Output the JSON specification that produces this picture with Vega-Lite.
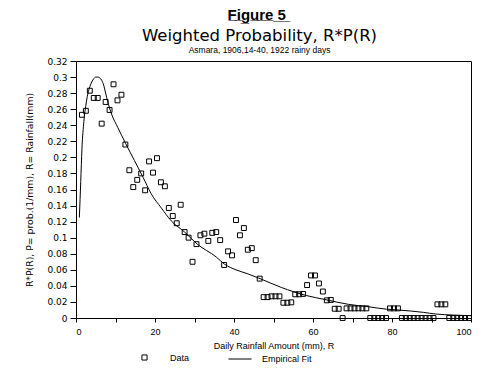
{
  "$schema": "https://vega.github.io/schema/vega-lite/v6.json",
  "padding": {"left": 25, "top": 7, "right": 5, "bottom": 2},
  "background": "white",
  "title": {"text": "F\u0332i\u0332g\u0332u\u0332r\u0332e\u0332 \u03325\u0332", "font": "Liberation Sans", "fontSize": 15, "fontWeight": "bold", "color": "black", "anchor": "middle", "dx": 7, "offset": 5},
  "config": {
    "view": {"stroke": "black", "strokeWidth": 1},
    "axis": {"domainColor": "black", "tickColor": "black", "labelColor": "black", "titleColor": "black", "grid": false, "titleFontWeight": "normal", "labelOverlap": false}
  },
  "datasets": {
    "pts": [
      {"R": 1.5, "v": 0.253, "series": "Data"}, {"R": 2.5, "v": 0.258, "series": "Data"}, {"R": 3.5, "v": 0.283, "series": "Data"},
      {"R": 4.5, "v": 0.274, "series": "Data"}, {"R": 5.5, "v": 0.274, "series": "Data"}, {"R": 6.5, "v": 0.242, "series": "Data"},
      {"R": 7.5, "v": 0.269, "series": "Data"}, {"R": 8.5, "v": 0.259, "series": "Data"}, {"R": 9.5, "v": 0.291, "series": "Data"},
      {"R": 10.5, "v": 0.271, "series": "Data"}, {"R": 11.5, "v": 0.278, "series": "Data"}, {"R": 12.5, "v": 0.216, "series": "Data"},
      {"R": 13.5, "v": 0.184, "series": "Data"}, {"R": 14.5, "v": 0.163, "series": "Data"}, {"R": 15.5, "v": 0.172, "series": "Data"},
      {"R": 16.5, "v": 0.180, "series": "Data"}, {"R": 17.5, "v": 0.159, "series": "Data"}, {"R": 18.5, "v": 0.195, "series": "Data"},
      {"R": 19.5, "v": 0.181, "series": "Data"}, {"R": 20.5, "v": 0.199, "series": "Data"}, {"R": 21.5, "v": 0.169, "series": "Data"},
      {"R": 22.5, "v": 0.164, "series": "Data"}, {"R": 23.5, "v": 0.137, "series": "Data"}, {"R": 24.5, "v": 0.127, "series": "Data"},
      {"R": 25.5, "v": 0.118, "series": "Data"}, {"R": 26.5, "v": 0.141, "series": "Data"}, {"R": 27.5, "v": 0.107, "series": "Data"},
      {"R": 28.5, "v": 0.100, "series": "Data"}, {"R": 29.5, "v": 0.070, "series": "Data"}, {"R": 30.5, "v": 0.092, "series": "Data"},
      {"R": 31.5, "v": 0.103, "series": "Data"}, {"R": 32.5, "v": 0.105, "series": "Data"}, {"R": 33.5, "v": 0.096, "series": "Data"},
      {"R": 34.5, "v": 0.106, "series": "Data"}, {"R": 35.5, "v": 0.107, "series": "Data"}, {"R": 36.5, "v": 0.097, "series": "Data"},
      {"R": 37.5, "v": 0.066, "series": "Data"}, {"R": 38.5, "v": 0.083, "series": "Data"}, {"R": 39.5, "v": 0.078, "series": "Data"},
      {"R": 40.5, "v": 0.122, "series": "Data"}, {"R": 41.5, "v": 0.103, "series": "Data"}, {"R": 42.5, "v": 0.112, "series": "Data"},
      {"R": 43.5, "v": 0.085, "series": "Data"}, {"R": 44.5, "v": 0.087, "series": "Data"}, {"R": 45.5, "v": 0.072, "series": "Data"},
      {"R": 46.5, "v": 0.049, "series": "Data"}, {"R": 47.5, "v": 0.026, "series": "Data"}, {"R": 48.5, "v": 0.026, "series": "Data"},
      {"R": 49.5, "v": 0.027, "series": "Data"}, {"R": 50.5, "v": 0.027, "series": "Data"}, {"R": 51.5, "v": 0.027, "series": "Data"},
      {"R": 52.5, "v": 0.019, "series": "Data"}, {"R": 53.5, "v": 0.019, "series": "Data"}, {"R": 54.5, "v": 0.0195, "series": "Data"},
      {"R": 55.5, "v": 0.0295, "series": "Data"}, {"R": 56.5, "v": 0.0295, "series": "Data"}, {"R": 57.5, "v": 0.030, "series": "Data"},
      {"R": 58.5, "v": 0.041, "series": "Data"}, {"R": 59.5, "v": 0.053, "series": "Data"}, {"R": 60.5, "v": 0.053, "series": "Data"},
      {"R": 61.5, "v": 0.043, "series": "Data"}, {"R": 62.5, "v": 0.033, "series": "Data"}, {"R": 63.5, "v": 0.022, "series": "Data"},
      {"R": 64.5, "v": 0.0225, "series": "Data"}, {"R": 65.5, "v": 0.0115, "series": "Data"}, {"R": 66.5, "v": 0.0115, "series": "Data"},
      {"R": 67.5, "v": 0, "series": "Data"}, {"R": 68.5, "v": 0.012, "series": "Data"}, {"R": 69.5, "v": 0.012, "series": "Data"},
      {"R": 70.5, "v": 0.012, "series": "Data"}, {"R": 71.5, "v": 0.012, "series": "Data"}, {"R": 72.5, "v": 0.012, "series": "Data"},
      {"R": 73.5, "v": 0.012, "series": "Data"}, {"R": 74.5, "v": 0, "series": "Data"}, {"R": 75.5, "v": 0, "series": "Data"},
      {"R": 76.5, "v": 0, "series": "Data"}, {"R": 77.5, "v": 0, "series": "Data"}, {"R": 78.5, "v": 0, "series": "Data"},
      {"R": 79.5, "v": 0.012, "series": "Data"}, {"R": 80.5, "v": 0.012, "series": "Data"}, {"R": 81.5, "v": 0.012, "series": "Data"},
      {"R": 82.5, "v": 0, "series": "Data"}, {"R": 83.5, "v": 0, "series": "Data"}, {"R": 84.5, "v": 0, "series": "Data"},
      {"R": 85.5, "v": 0, "series": "Data"}, {"R": 86.5, "v": 0, "series": "Data"}, {"R": 87.5, "v": 0, "series": "Data"},
      {"R": 88.5, "v": 0, "series": "Data"}, {"R": 89.5, "v": 0, "series": "Data"}, {"R": 90.5, "v": 0, "series": "Data"},
      {"R": 91.5, "v": 0.017, "series": "Data"}, {"R": 92.5, "v": 0.017, "series": "Data"}, {"R": 93.5, "v": 0.017, "series": "Data"},
      {"R": 94.5, "v": 0, "series": "Data"}, {"R": 95.5, "v": 0, "series": "Data"}, {"R": 96.5, "v": 0, "series": "Data"},
      {"R": 97.5, "v": 0, "series": "Data"}, {"R": 98.5, "v": 0, "series": "Data"}, {"R": 99.5, "v": 0, "series": "Data"}
    ],
    "fit": [
      {"R": 0.85, "v": 0.125, "series": "Empirical Fit"}, {"R": 1.2, "v": 0.17, "series": "Empirical Fit"}, {"R": 1.5, "v": 0.21, "series": "Empirical Fit"}, {"R": 2.0, "v": 0.245, "series": "Empirical Fit"},
      {"R": 2.5, "v": 0.265, "series": "Empirical Fit"}, {"R": 3.0, "v": 0.279, "series": "Empirical Fit"}, {"R": 3.5, "v": 0.288, "series": "Empirical Fit"}, {"R": 4.0, "v": 0.294, "series": "Empirical Fit"},
      {"R": 4.5, "v": 0.298, "series": "Empirical Fit"}, {"R": 5.0, "v": 0.300, "series": "Empirical Fit"}, {"R": 5.5, "v": 0.300, "series": "Empirical Fit"}, {"R": 6.0, "v": 0.299, "series": "Empirical Fit"},
      {"R": 6.5, "v": 0.296, "series": "Empirical Fit"}, {"R": 7.0, "v": 0.290, "series": "Empirical Fit"}, {"R": 7.5, "v": 0.280, "series": "Empirical Fit"}, {"R": 8.0, "v": 0.270, "series": "Empirical Fit"},
      {"R": 9.0, "v": 0.254, "series": "Empirical Fit"}, {"R": 10.6, "v": 0.237, "series": "Empirical Fit"}, {"R": 12.6, "v": 0.217, "series": "Empirical Fit"}, {"R": 14.8, "v": 0.196, "series": "Empirical Fit"},
      {"R": 17.0, "v": 0.175, "series": "Empirical Fit"}, {"R": 19.0, "v": 0.155, "series": "Empirical Fit"}, {"R": 21.6, "v": 0.137, "series": "Empirical Fit"}, {"R": 24.1, "v": 0.121, "series": "Empirical Fit"},
      {"R": 27.5, "v": 0.107, "series": "Empirical Fit"}, {"R": 30.7, "v": 0.092, "series": "Empirical Fit"}, {"R": 35.5, "v": 0.076, "series": "Empirical Fit"}, {"R": 37.6, "v": 0.067, "series": "Empirical Fit"},
      {"R": 40.5, "v": 0.060, "series": "Empirical Fit"}, {"R": 43.5, "v": 0.055, "series": "Empirical Fit"}, {"R": 46.6, "v": 0.049, "series": "Empirical Fit"}, {"R": 52.0, "v": 0.038, "series": "Empirical Fit"},
      {"R": 58.3, "v": 0.028, "series": "Empirical Fit"}, {"R": 63.0, "v": 0.023, "series": "Empirical Fit"}, {"R": 69.0, "v": 0.017, "series": "Empirical Fit"}, {"R": 74.0, "v": 0.014, "series": "Empirical Fit"},
      {"R": 78.6, "v": 0.011, "series": "Empirical Fit"}, {"R": 81.5, "v": 0.010, "series": "Empirical Fit"}, {"R": 88.0, "v": 0.007, "series": "Empirical Fit"}, {"R": 91.0, "v": 0.005, "series": "Empirical Fit"},
      {"R": 100.0, "v": 0.003, "series": "Empirical Fit"}
    ]
  },
  "vconcat": [
    {
      "width": 395,
      "height": 257,
      "title": {
        "text": "Weighted Probability, R*P(R)",
        "subtitle": "Asmara, 1906,14-40, 1922 rainy days",
        "font": "DejaVu Sans", "fontSize": 16.5, "fontWeight": "normal", "color": "black",
        "subtitleFont": "Liberation Sans", "subtitleFontSize": 8.5, "subtitleColor": "black", "subtitlePadding": 1,
        "anchor": "middle", "dx": -14, "offset": 3
      },
      "encoding": {
        "x": {
          "field": "R", "type": "quantitative",
          "scale": {"domain": [0, 100], "nice": false},
          "axis": {
            "values": [0, 10, 20, 30, 40, 50, 60, 70, 80, 90, 100],
            "labelExpr": "datum.value % 20 === 0 ? datum.label : ''",
            "title": "Daily Rainfall Amount (mm), R",
            "labelFont": "Liberation Sans", "labelFontSize": 9,
            "titleFont": "Liberation Sans", "titleFontSize": 9,
            "tickSize": 4, "labelPadding": 5, "titlePadding": 5
          }
        },
        "y": {
          "field": "v", "type": "quantitative",
          "scale": {"domain": [0, 0.32], "nice": false},
          "axis": {
            "values": [0, 0.02, 0.04, 0.06, 0.08, 0.1, 0.12, 0.14, 0.16, 0.18, 0.2, 0.22, 0.24, 0.26, 0.28, 0.3, 0.32],
            "format": "~g",
            "title": "R*P(R), P= prob.(1/mm), R= Rainfall(mm)",
            "labelFont": "DejaVu Sans", "labelFontSize": 9,
            "titleFont": "DejaVu Sans", "titleFontSize": 9.3,
            "tickSize": 6, "labelPadding": 3, "titlePadding": 12
          }
        }
      },
      "layer": [
        {
          "data": {"name": "fit"},
          "mark": {"type": "line", "strokeWidth": 1, "interpolate": "monotone"},
          "encoding": {
            "color": {
              "field": "series", "type": "nominal",
              "scale": {"domain": ["Empirical Fit"], "range": ["black"]},
              "legend": {
                "title": null,
                "orient": "none", "legendX": 152, "legendY": 286,
                "labelFont": "Liberation Sans", "labelFontSize": 9, "labelColor": "black",
                "labelOffset": 10, "symbolType": "stroke", "symbolSize": 529,
                "symbolStrokeColor": "black", "symbolStrokeWidth": 1
              }
            }
          }
        },
        {
          "data": {"name": "pts"},
          "mark": {"type": "point", "filled": false, "color": "black", "strokeWidth": 1, "opacity": 1, "size": 24},
          "encoding": {
            "shape": {
              "field": "series", "type": "nominal",
              "scale": {"domain": ["Data"], "range": ["square"]},
              "legend": {
                "title": null,
                "orient": "none", "legendX": 64, "legendY": 292,
                "labelFont": "Liberation Sans", "labelFontSize": 9, "labelColor": "black",
                "labelOffset": 21, "symbolSize": 26,
                "symbolStrokeColor": "black", "symbolFillColor": "transparent", "symbolStrokeWidth": 1,
                "symbolOpacity": 1
              }
            }
          }
        }
      ]
    }
  ]
}
